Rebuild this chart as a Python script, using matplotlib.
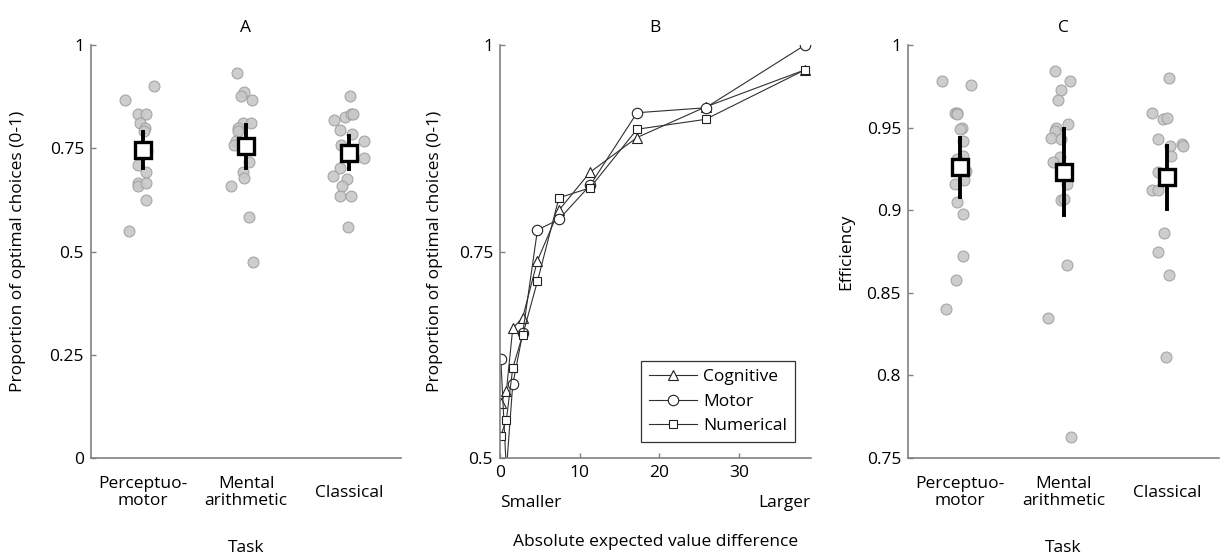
import numpy as np
import matplotlib
matplotlib.use("Agg")
import matplotlib.pyplot as plt

plt.rcParams['font.family'] = ['Open Sans', 'DejaVu Sans']
FS = 12.5
plt.rcParams['font.size'] = FS

# ---------------- data ----------------
task_labels = ["Perceptuo-\nmotor", "Mental\narithmetic", "Classical"]

# Panel A: proportion of optimal choices per participant (x jitter, value)
a_perc_jit = [-0.17, 0.11, -0.05, 0.03, -0.03, 0.02, 0.01, 0.04, -0.05, 0.035, -0.05, -0.05, 0.035, 0.03, -0.13]
a_perc_val = [0.867, 0.900, 0.834, 0.834, 0.810, 0.800, 0.792, 0.743, 0.709, 0.692, 0.667, 0.659, 0.667, 0.625, 0.550]
a_ment_jit = [-0.09, -0.02, -0.05, 0.06, -0.03, 0.045, -0.08, -0.075, -0.10, -0.12, 0.03, -0.03, -0.02, -0.145, 0.03, 0.07]
a_ment_val = [0.933, 0.885, 0.876, 0.867, 0.810, 0.810, 0.800, 0.792, 0.767, 0.759, 0.717, 0.692, 0.677, 0.659, 0.584, 0.475]
a_clas_jit = [0.01, -0.04, 0.015, 0.035, -0.15, -0.09, 0.025, 0.14, -0.085, 0.14, -0.09, -0.155, -0.025, -0.07, -0.09, 0.015, -0.01]
a_clas_val = [0.876, 0.826, 0.834, 0.834, 0.818, 0.793, 0.784, 0.768, 0.758, 0.726, 0.701, 0.684, 0.676, 0.659, 0.634, 0.634, 0.559]
a_mean = [0.746, 0.755, 0.739]
a_err = [0.043, 0.052, 0.040]

# Panel B: proportion of optimal choices by absolute EV difference
b_ev_diff = [0.1, 0.8, 1.6, 2.85, 4.7, 7.4, 11.3, 17.2, 25.8, 38.3]
b_cognitive = [0.567, 0.581, 0.657, 0.670, 0.739, 0.800, 0.846, 0.888, 0.925, 0.970]
b_motor = [0.620, 0.485, 0.589, 0.651, 0.776, 0.789, 0.830, 0.918, 0.924, 1.000]
b_numerical = [0.527, 0.546, 0.609, 0.649, 0.714, 0.815, 0.827, 0.898, 0.910, 0.970]

# Panel C: efficiency per participant
c_perc_jit = [-0.17, 0.11, -0.05, -0.03, -0.025, 0.02, 0.0, 0.03, 0.03, -0.03, 0.055, 0.04, -0.05, -0.03, 0.03, 0.03, -0.04, -0.13]
c_perc_val = [0.978, 0.976, 0.959, 0.959, 0.958, 0.950, 0.949, 0.942, 0.933, 0.931, 0.924, 0.918, 0.916, 0.905, 0.898, 0.872, 0.858, 0.840]
c_ment_jit = [-0.085, 0.065, -0.02, -0.05, 0.04, -0.075, -0.085, -0.125, -0.025, -0.03, -0.10, 0.03, -0.02, 0.0, 0.03, -0.145, 0.07]
c_ment_val = [0.984, 0.978, 0.973, 0.967, 0.952, 0.950, 0.948, 0.944, 0.943, 0.932, 0.929, 0.916, 0.906, 0.907, 0.867, 0.835, 0.763]
c_clas_jit = [0.015, -0.145, -0.045, 0.0, -0.09, 0.03, 0.14, 0.15, 0.035, -0.09, -0.15, -0.085, -0.03, -0.09, 0.015, -0.015]
c_clas_val = [0.980, 0.959, 0.955, 0.956, 0.943, 0.939, 0.940, 0.939, 0.933, 0.923, 0.912, 0.912, 0.886, 0.875, 0.861, 0.811]
c_mean = [0.926, 0.923, 0.920]
c_err = [0.018, 0.026, 0.019]

# ---------------- styling ----------------
SPINE = '#808080'
DOT_FACE = '#c8c8c8'
DOT_EDGE = '#a0a0a0'

fig = plt.figure(figsize=(12.27, 5.58), dpi=100)
W, H = 1227.0, 558.0


def make_axes(left_px, right_px, top_px=45.0, bottom_px=458.0):
    return fig.add_axes([left_px / W, 1 - bottom_px / H,
                         (right_px - left_px) / W, (bottom_px - top_px) / H])


def style_axes(ax):
    for side in ('top', 'right'):
        ax.spines[side].set_visible(False)
    for side in ('left', 'bottom'):
        ax.spines[side].set_color(SPINE)
        ax.spines[side].set_linewidth(1.2)
    ax.tick_params(direction='in', color=SPINE, length=3.5, width=1.0,
                   labelsize=FS, pad=5)


def place_labels(ax, xlabel_y, ylabel_x):
    ax.xaxis.label.set_verticalalignment('center')
    ax.xaxis.set_label_coords(0.5, xlabel_y)
    ax.yaxis.label.set_verticalalignment('center')
    ax.yaxis.set_label_coords(ylabel_x, 0.5)


def task_panel(ax, jits, vals, means, errs, ylim, yticks, yticklabels, ylabel, title, ylabel_x):
    style_axes(ax)
    for i, (jit, val) in enumerate(zip(jits, vals)):
        xs = np.array(jit) + (i + 1)
        ax.scatter(xs, val, s=62, facecolor=DOT_FACE, edgecolor=DOT_EDGE,
                   linewidth=0.8, alpha=0.9, zorder=2)
    pos = np.arange(1, len(means) + 1)
    ax.errorbar(pos, means, yerr=errs, fmt='none', ecolor='black',
                elinewidth=2.8, capsize=1.6, capthick=2.8, zorder=3)
    ax.plot(pos, means, linestyle='none', marker='s', markersize=11,
            markerfacecolor='white', markeredgecolor='black',
            markeredgewidth=2.4, zorder=4)
    ax.set_xlim(0.5, 3.5)
    ax.set_ylim(*ylim)
    ax.set_yticks(yticks)
    ax.set_yticklabels(yticklabels)
    ax.set_xticks(pos)
    ax.set_xticklabels(task_labels, linespacing=1.1)
    ax.tick_params(axis='x', length=0, pad=25)
    for lab in ax.get_xticklabels():
        lab.set_verticalalignment('center')
        lab.set_horizontalalignment('center')
        lab.set_multialignment('center')
    ax.set_xlabel('Task', fontsize=FS)
    ax.set_ylabel(ylabel, fontsize=FS)
    place_labels(ax, -0.218, ylabel_x)
    ax.set_title(title, fontsize=FS, pad=9)


# Panel A
axA = make_axes(91, 401)
task_panel(axA, [a_perc_jit, a_ment_jit, a_clas_jit],
           [a_perc_val, a_ment_val, a_clas_val], a_mean, a_err,
           (0, 1), [0, 0.25, 0.5, 0.75, 1], ['0', '0.25', '0.5', '0.75', '1'],
           'Proportion of optimal choices (0-1)', 'A', -0.235)

# Panel B
axB = make_axes(500, 810.7)
style_axes(axB)
series = [("Cognitive", b_cognitive, '^', 7.5),
          ("Motor", b_motor, 'o', 7.5),
          ("Numerical", b_numerical, 's', 6.0)]
for name, vals, mk, ms in series:
    axB.plot(b_ev_diff, vals, color='#303030', linewidth=0.8, marker=mk,
             markersize=ms, markerfacecolor='white', markeredgecolor='#202020',
             markeredgewidth=0.8, label=name)
axB.set_xlim(0, 39)
axB.set_ylim(0.5, 1)
axB.set_yticks([0.5, 0.75, 1])
axB.set_yticklabels(['0.5', '0.75', '1'])
axB.set_xticks([0, 10, 20, 30])
axB.set_ylabel('Proportion of optimal choices (0-1)', fontsize=FS)
axB.set_xlabel('Absolute expected value difference', fontsize=FS)
place_labels(axB, -0.203, -0.21)
axB.text(0.0, -0.109, 'Smaller', transform=axB.transAxes, ha='left', va='center', fontsize=FS)
axB.text(1.0, -0.109, 'Larger', transform=axB.transAxes, ha='right', va='center', fontsize=FS)
axB.set_title('B', fontsize=FS, pad=9)
leg = axB.legend(loc='lower right', bbox_to_anchor=(0.95, 0.038), fontsize=FS,
                 frameon=True, fancybox=False, borderpad=0.45, handlelength=2.8,
                 labelspacing=0.5, handletextpad=0.35, borderaxespad=0.0)
leg.get_frame().set_edgecolor('black')
leg.get_frame().set_linewidth(0.9)

# Panel C
axC = make_axes(908, 1219)
task_panel(axC, [c_perc_jit, c_ment_jit, c_clas_jit],
           [c_perc_val, c_ment_val, c_clas_val], c_mean, c_err,
           (0.75, 1), [0.75, 0.8, 0.85, 0.9, 0.95, 1],
           ['0.75', '0.8', '0.85', '0.9', '0.95', '1'],
           'Efficiency', 'C', -0.197)

fig.savefig('out.png', dpi=100)
